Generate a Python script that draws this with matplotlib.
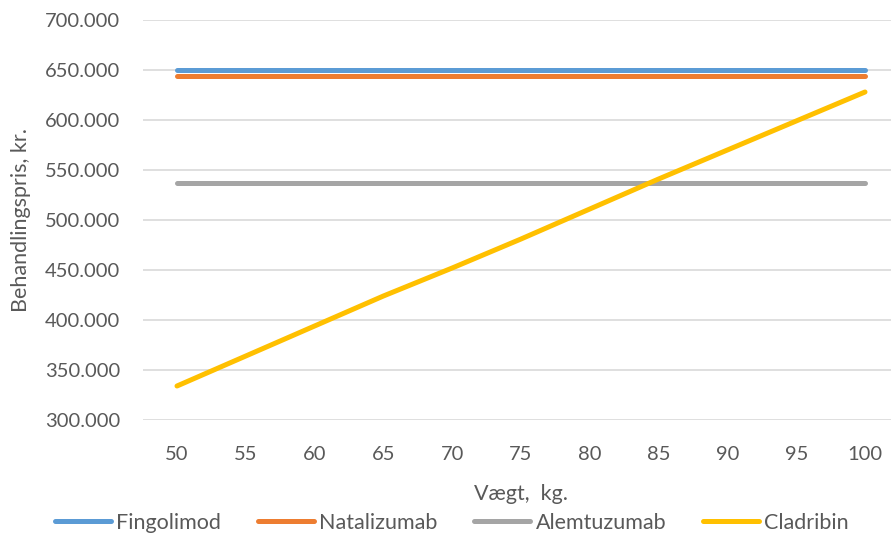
import matplotlib
matplotlib.use("Agg")
import matplotlib.pyplot as plt
from matplotlib.lines import Line2D
from matplotlib.ticker import FuncFormatter

# Treatment price (kr.) by body weight (kg)
weights = [50, 55, 60, 65, 70, 75, 80, 85, 90, 95, 100]
fingolimod = [650000] * 11
natalizumab = [644000] * 11
alemtuzumab = [537000] * 11
cladribin = [334000, 364000, 394000, 424000, 452000, 481000, 511000, 541000, 570000, 599000, 628000]

series_names = ["Fingolimod", "Natalizumab", "Alemtuzumab", "Cladribin"]
series_values = [fingolimod, natalizumab, alemtuzumab, cladribin]
series_colors = ["#5B9BD5", "#ED7D31", "#A5A5A5", "#FFC000"]

plt.rcParams["font.family"] = ["Lato", "DejaVu Sans"]
text_color = "#595959"

fig = plt.figure(figsize=(8.91, 5.4), dpi=100)
W, H = 891, 540
left, right, top, bottom = 142.6, 899.4, 20, 420
ax = fig.add_axes([left / W, 1 - bottom / H, (right - left) / W, (bottom - top) / H])

xpos = list(range(len(weights)))
for name, vals, col in zip(series_names, series_values, series_colors):
    ax.plot(xpos, vals, color=col, linewidth=3.6, solid_capstyle="round",
            solid_joinstyle="round", label=name, zorder=3)

ax.set_xlim(-0.5, len(weights) - 0.5)
ax.set_ylim(300000, 700000)
ax.set_yticks(range(300000, 700001, 50000))
ax.yaxis.set_major_formatter(FuncFormatter(lambda v, p: f"{int(v):,}".replace(",", ".")))
ax.set_xticks(xpos)
ax.set_xticklabels([str(w) for w in weights])

ax.grid(axis="y", color="#D9D9D9", linewidth=1.2, zorder=0)
for s in ax.spines.values():
    s.set_visible(False)
ax.tick_params(axis="both", length=0, labelsize=14.5, colors=text_color)
ax.tick_params(axis="y", pad=16)
ax.tick_params(axis="x", pad=19)

ax.set_xlabel("Vægt,  kg.", fontsize=15.5, color=text_color, labelpad=15)
ax.set_ylabel("Behandlingspris, kr.", fontsize=15.5, color=text_color, labelpad=10)

handles = [Line2D([0], [0], color=c, linewidth=3.6, solid_capstyle="round") for c in series_colors]
fig.legend(handles, series_names, loc="center", bbox_to_anchor=(452 / W, 1 - 523 / H),
           ncol=4, frameon=False, fontsize=15.5, labelcolor=text_color,
           handlelength=2.6, handletextpad=0.25, columnspacing=1.7)

fig.savefig("out.png", dpi=100)
